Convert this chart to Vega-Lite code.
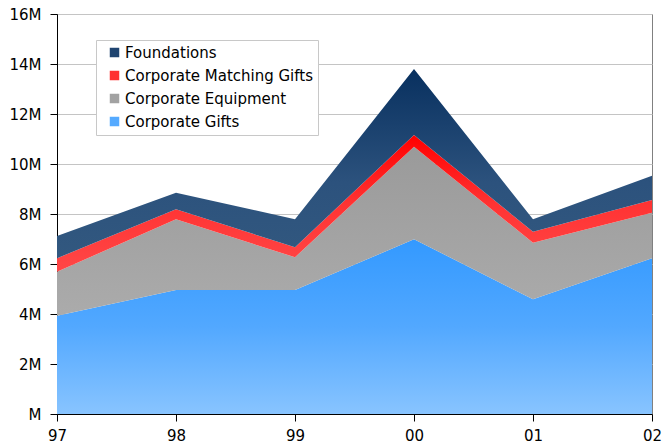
{
  "$schema": "https://vega.github.io/schema/vega-lite/v6.json",
  "width": 595,
  "height": 400,
  "autosize": {"type": "none"},
  "padding": {"left": 57, "top": 14, "right": 12, "bottom": 34},
  "background": "white",
  "config": {
    "view": {"stroke": "#808080", "strokeWidth": 1},
    "font": "DejaVu Sans",
    "axis": {"labelFont": "DejaVu Sans", "labelFontSize": 15, "labelColor": "#000000", "domainColor": "#000000", "tickColor": "#000000", "title": null}
  },
  "data": {
    "values": [
      {"year": "97", "series": "Corporate Gifts", "value": 3.93},
      {"year": "97", "series": "Corporate Equipment", "value": 1.76},
      {"year": "97", "series": "Corporate Matching Gifts", "value": 0.54},
      {"year": "97", "series": "Foundations", "value": 0.89},
      {"year": "98", "series": "Corporate Gifts", "value": 4.96},
      {"year": "98", "series": "Corporate Equipment", "value": 2.83},
      {"year": "98", "series": "Corporate Matching Gifts", "value": 0.40},
      {"year": "98", "series": "Foundations", "value": 0.66},
      {"year": "99", "series": "Corporate Gifts", "value": 4.96},
      {"year": "99", "series": "Corporate Equipment", "value": 1.31},
      {"year": "99", "series": "Corporate Matching Gifts", "value": 0.40},
      {"year": "99", "series": "Foundations", "value": 1.12},
      {"year": "00", "series": "Corporate Gifts", "value": 6.99},
      {"year": "00", "series": "Corporate Equipment", "value": 3.70},
      {"year": "00", "series": "Corporate Matching Gifts", "value": 0.47},
      {"year": "00", "series": "Foundations", "value": 2.64},
      {"year": "01", "series": "Corporate Gifts", "value": 4.59},
      {"year": "01", "series": "Corporate Equipment", "value": 2.26},
      {"year": "01", "series": "Corporate Matching Gifts", "value": 0.44},
      {"year": "01", "series": "Foundations", "value": 0.50},
      {"year": "02", "series": "Corporate Gifts", "value": 6.23},
      {"year": "02", "series": "Corporate Equipment", "value": 1.82},
      {"year": "02", "series": "Corporate Matching Gifts", "value": 0.51},
      {"year": "02", "series": "Foundations", "value": 0.97}
    ]
  },
  "transform": [
    {"calculate": "indexof(['Corporate Gifts','Corporate Equipment','Corporate Matching Gifts','Foundations'], datum.series)", "as": "ord"},
    {"stack": "value", "groupby": ["year"], "sort": [{"field": "ord", "order": "ascending"}], "as": ["v0", "v1"]}
  ],
  "encoding": {
    "x": {
      "field": "year", "type": "ordinal",
      "sort": ["97", "98", "99", "00", "01", "02"],
      "scale": {"type": "point", "padding": 0},
      "axis": {"labelAngle": 0, "tickSize": 7, "labelPadding": 7, "domainColor": "#000000", "grid": false}
    },
    "y": {
      "field": "v1", "type": "quantitative",
      "scale": {"domain": [0, 16], "nice": false},
      "axis": {"values": [0, 2, 4, 6, 8, 10, 12, 14, 16], "labelExpr": "datum.value == 0 ? 'M' : datum.value + 'M'", "tickSize": 7, "labelPadding": 9, "grid": true, "gridColor": "#c4c4c4", "gridWidth": 1}
    }
  },
  "layer": [
    {
      "transform": [{"filter": "datum.series == 'Corporate Gifts'"}],
      "mark": {"type": "area", "color": {"gradient": "linear", "x1": 0, "y1": 0, "x2": 0, "y2": 1, "stops": [{"offset": 0, "color": "#3399ff"}, {"offset": 0.5, "color": "#52a8ff"}, {"offset": 1, "color": "#88c4ff"}]}},
      "encoding": {"y2": {"field": "v0"}}
    },
    {
      "transform": [{"filter": "datum.series == 'Corporate Equipment'"}],
      "mark": {"type": "area", "color": {"gradient": "linear", "x1": 0, "y1": 0, "x2": 0, "y2": 1, "stops": [{"offset": 0, "color": "#9a9a9a"}, {"offset": 1, "color": "#ababab"}]}},
      "encoding": {"y2": {"field": "v0"}}
    },
    {
      "transform": [{"filter": "datum.series == 'Corporate Matching Gifts'"}],
      "mark": {"type": "area", "color": {"gradient": "linear", "x1": 0, "y1": 0, "x2": 0, "y2": 1, "stops": [{"offset": 0, "color": "#ff0000"}, {"offset": 0.5, "color": "#ff3333"}, {"offset": 1, "color": "#ff4747"}]}},
      "encoding": {"y2": {"field": "v0"}}
    },
    {
      "transform": [{"filter": "datum.series == 'Foundations'"}],
      "mark": {"type": "area", "color": {"gradient": "linear", "x1": 0, "y1": 0, "x2": 0, "y2": 1, "stops": [{"offset": 0, "color": "#08305f"}, {"offset": 0.6, "color": "#2c527d"}, {"offset": 1, "color": "#32587f"}]}},
      "encoding": {"y2": {"field": "v0"}}
    },
    {
      "mark": {"type": "point", "filled": true, "opacity": 0, "shape": "square"},
      "encoding": {
        "color": {
          "field": "series", "type": "nominal",
          "scale": {"domain": ["Foundations", "Corporate Matching Gifts", "Corporate Equipment", "Corporate Gifts"], "range": ["#1f4470", "#ff3030", "#a2a2a2", "#55aaff"]},
          "legend": {
            "title": null, "orient": "none", "legendX": 39, "legendY": 26, "direction": "vertical",
            "strokeColor": "#c8c8c8", "fillColor": "#ffffff", "padding": 5,
            "labelFont": "DejaVu Sans", "labelFontSize": 15, "labelColor": "#000000",
            "symbolType": "square", "symbolSize": 90, "symbolOpacity": 1, "symbolStrokeWidth": 0,
            "symbolOffset": 6, "labelOffset": 3, "rowPadding": 7, "labelLimit": 400
          }
        }
      }
    }
  ]
}
